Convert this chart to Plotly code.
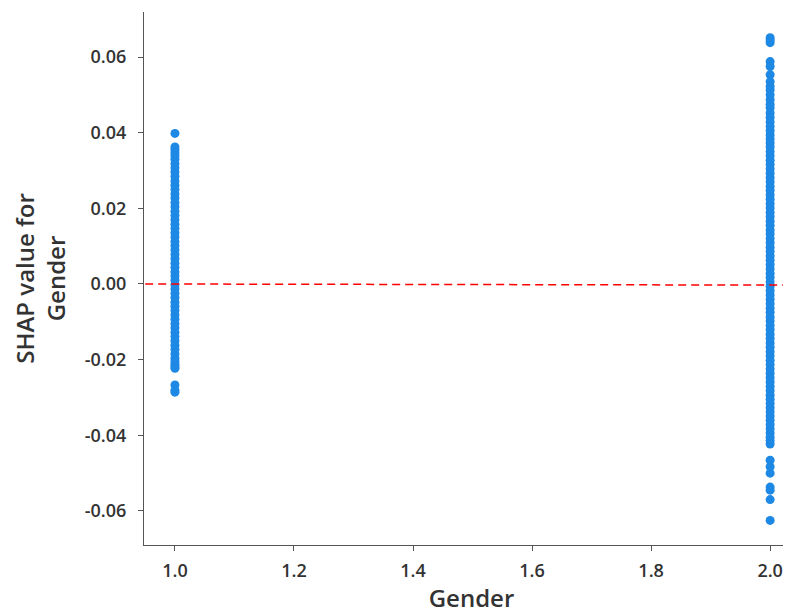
import plotly.graph_objects as go

# SHAP values
shap_gender_1 = [
    0.0398, 0.0362, 0.0355, 0.0347, 0.0339, 0.0330, 0.0318, 0.0307, 0.0296, 0.0284,
    0.0272, 0.0261, 0.0250, 0.0238, 0.0227, 0.0215, 0.0204, 0.0192, 0.0181, 0.0170,
    0.0158, 0.0147, 0.0135, 0.0124, 0.0112, 0.0101, 0.0090, 0.0078, 0.0067, 0.0055,
    0.0044, 0.0032, 0.0021, 0.0010, -0.0002, -0.0013, -0.0025, -0.0036, -0.0048,
    -0.0059, -0.0070, -0.0082, -0.0093, -0.0105, -0.0116, -0.0128, -0.0139, -0.0150,
    -0.0162, -0.0173, -0.0185, -0.0196, -0.0205, -0.0212, -0.0218, -0.0223,
    -0.0267, -0.0281, -0.0286,
]
shap_gender_2 = [
    0.0651, 0.0645, 0.0638, 0.0588, 0.0575, 0.0553, 0.0535, 0.0522, 0.0513, 0.0500,
    0.0487, 0.0475, 0.0466, 0.0452, 0.0440, 0.0428, 0.0416, 0.0405, 0.0394, 0.0383,
    0.0373, 0.0362, 0.0350, 0.0339, 0.0327, 0.0316, 0.0304, 0.0293, 0.0281, 0.0270,
    0.0258, 0.0247, 0.0235, 0.0224, 0.0212, 0.0201, 0.0189, 0.0178, 0.0166, 0.0155,
    0.0143, 0.0132, 0.0120, 0.0109, 0.0097, 0.0086, 0.0074, 0.0063, 0.0051, 0.0040,
    0.0028, 0.0017, 0.0005, -0.0006, -0.0018, -0.0029, -0.0041, -0.0052, -0.0064,
    -0.0075, -0.0087, -0.0098, -0.0110, -0.0121, -0.0133, -0.0144, -0.0156, -0.0167,
    -0.0179, -0.0190, -0.0202, -0.0213, -0.0225, -0.0236, -0.0248, -0.0259, -0.0271,
    -0.0282, -0.0294, -0.0305, -0.0316, -0.0327, -0.0338, -0.0349, -0.0360, -0.0372,
    -0.0383, -0.0394, -0.0405, -0.0414, -0.0423, -0.0466, -0.0483, -0.0500, -0.0537,
    -0.0545, -0.0570, -0.0625,
]
gender_levels = [1.0, 2.0]
x_ticks = [1.0, 1.2, 1.4, 1.6, 1.8, 2.0]
y_ticks = [-0.06, -0.04, -0.02, 0.00, 0.02, 0.04, 0.06]
ref_line_x = [0.95, 2.05]
ref_line_y = [0.0000, -0.0003]

xs = [gender_levels[0]] * len(shap_gender_1) + [gender_levels[1]] * len(shap_gender_2)
ys = shap_gender_1 + shap_gender_2

fig = go.Figure()
fig.add_trace(go.Scatter(
    x=xs, y=ys, mode="markers",
    marker=dict(color="#1E88E5", size=9, line=dict(width=0)),
    showlegend=False, hoverinfo="skip",
))
fig.add_trace(go.Scatter(
    x=ref_line_x, y=ref_line_y, mode="lines",
    line=dict(color="#FF0000", width=1.5, dash="8px,5px"),
    showlegend=False, hoverinfo="skip",
))

font_family = "Open Sans, DejaVu Sans, sans-serif"
fig.update_layout(
    width=791, height=615,
    margin=dict(l=136, r=0, t=4, b=78),
    plot_bgcolor="white", paper_bgcolor="white",
    font=dict(family=font_family, color="#333333"),
    xaxis=dict(
        range=[0.948, 2.0485],
        tickvals=x_ticks,
        ticktext=[f"{v:.1f}" for v in x_ticks],
        showgrid=False, zeroline=False,
        showline=True, linecolor="#555555", linewidth=1.3,
        ticks="outside", ticklen=5, tickcolor="#555555", tickwidth=1.2,
        ticklabelstandoff=4,
        tickfont=dict(size=18, color="#333333", weight=600),
        title=dict(text="Gender", font=dict(size=24, color="#333333", weight=600), standoff=9),
    ),
    yaxis=dict(
        range=[-0.069, 0.0719],
        tickvals=y_ticks,
        ticktext=[f"{v:.2f}" for v in y_ticks],
        showgrid=False, zeroline=False,
        showline=True, linecolor="#555555", linewidth=1.3,
        ticks="outside", ticklen=5, tickcolor="#555555", tickwidth=1.2,
        ticklabelstandoff=8,
        tickfont=dict(size=18, color="#333333", weight=600),
        title=dict(text="SHAP value for<br>Gender", font=dict(size=24, color="#333333", weight=600), standoff=12),
    ),
)

fig.write_html("out.html")
